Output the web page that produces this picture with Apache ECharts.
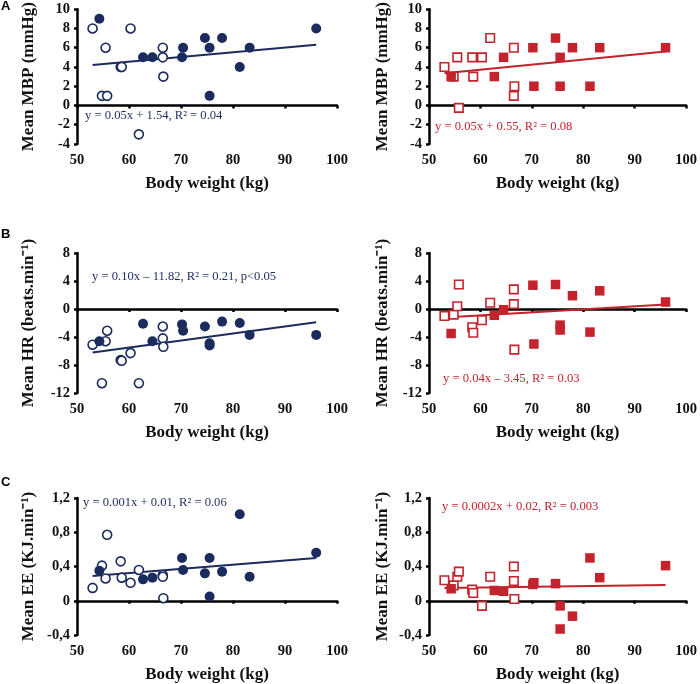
<!DOCTYPE html>
<html>
<head>
<meta charset="utf-8">
<script src="https://cdn.jsdelivr.net/npm/echarts@6/dist/echarts.min.js"></script>
<style>html,body{margin:0;padding:0;background:#fff}#c{width:700px;height:684px}</style>
</head>
<body>
<div id="c"></div>
<script>
// Body weight (kg) of subjects
var weightOpen   = [53.0, 54.8, 55.5, 55.8, 58.4, 58.6, 60.3, 61.9, 66.5, 66.5, 66.6];
var weightFilled = [54.3, 62.7, 64.5, 70.2, 70.4, 74.6, 75.5, 75.5, 77.9, 81.3, 83.2, 96.0];

// Panel A — Mean MBP (mmHg)
var mbpLeftOpen    = [8, 1, 6, 1, 4, 4, 8, -3, 6, 5, 3];
var mbpLeftFilled  = [9, 5, 5, 5, 6, 7, 6, 1, 7, 4, 6, 8];
var mbpRightOpen   = [4, 3, 5, -0.25, 5, 3, 5, 7, 6, 1, 2];
var mbpRightFilled = [3, 3, 5, 6, 2, 7, 5, 2, 6, 2, 6, 6];

// Panel B — Mean HR (beats.min-1)
var hrLeftOpen    = [-5.1, -10.6, -4.6, -3.1, -7.3, -7.4, -6.3, -10.6, -2.5, -4.2, -5.4];
var hrLeftFilled  = [-4.6, -2.1, -4.6, -2.2, -3.1, -2.5, -4.9, -5.2, -1.8, -2.0, -3.7, -3.7];
var hrRightOpen   = [-1.0, -0.8, 0.4, 3.5, -2.6, -3.4, -1.6, 0.9, 2.8, 0.7, -5.8];
var hrRightFilled = [-3.5, -0.9, -0.1, 3.4, -5.0, 3.5, -2.3, -3.0, 1.9, -3.3, 2.6, 1.0];

// Panel C — Mean EE (KJ.min-1)
var eeLeftOpen    = [0.15, 0.41, 0.26, 0.77, 0.46, 0.27, 0.21, 0.36, 0.30, 0.28, 0.03];
var eeLeftFilled  = [0.35, 0.25, 0.27, 0.50, 0.36, 0.32, 0.50, 0.05, 0.34, 1.01, 0.28, 0.56];
var eeRightOpen   = [0.24, 0.18, 0.28, 0.34, 0.13, 0.09, -0.06, 0.28, 0.40, 0.23, 0.02];
var eeRightFilled = [0.14, 0.12, 0.11, 0.19, 0.21, 0.20, -0.06, -0.33, -0.18, 0.50, 0.27, 0.41];

// Regression line endpoints (x range and fitted y at ends)
var trendX = [53, 96];
var trendMbpLeft  = [4.2, 6.3];
var trendMbpRight = [3.35, 5.6];
var trendHrLeft   = [-6.2, -1.9];
var trendHrRight  = [-1.2, 0.65];
var trendEeLeft   = [0.29, 0.50];
var trendEeRight  = [0.15, 0.185];

// Equations
var eqTexts = [
  'y = 0.05x + 1.54, R² = 0.04',
  'y = 0.05x + 0.55, R² = 0.08',
  'y = 0.10x – 11.82, R² = 0.21, p<0.05',
  'y = 0.04x – 3.45, R² = 0.03',
  'y = 0.001x + 0.01, R² = 0.06',
  'y = 0.0002x + 0.02, R² = 0.003'
];
var yTitles = ['Mean MBP (mmHg)', 'Mean HR (beats.min⁻¹)', 'Mean EE (KJ.min⁻¹)'];
var yRanges = [[-4, 10, 2], [-12, 8, 4], [-0.4, 1.2, 0.4]];
var xRange = [50, 100, 10];
var panelLetters = ['A', 'B', 'C'];

var NAVY = '#1c2b5e', RED = '#c4222c';
var SERIF = '"Liberation Serif","Times New Roman",serif';

var gridPos = [
  {left: 77, top: 5, width: 260, height: 139},
  {left: 429, top: 5, width: 259, height: 139},
  {left: 77, top: 253, width: 260, height: 140},
  {left: 429, top: 253, width: 259, height: 140},
  {left: 77, top: 498, width: 260, height: 140},
  {left: 429, top: 498, width: 259, height: 140}
];

function zip(xs, ys){ return xs.map(function(x,i){ return [x, ys[i]]; }); }

var panels = [
  [mbpLeftOpen, mbpLeftFilled, trendMbpLeft],
  [mbpRightOpen, mbpRightFilled, trendMbpRight],
  [hrLeftOpen, hrLeftFilled, trendHrLeft],
  [hrRightOpen, hrRightFilled, trendHrRight],
  [eeLeftOpen, eeLeftFilled, trendEeLeft],
  [eeRightOpen, eeRightFilled, trendEeRight]
];

var grids = [], xAxes = [], yAxes = [], series = [], graphics = [];
panels.forEach(function(p, i){
  var row = Math.floor(i/2), isLeft = (i%2===0);
  var color = isLeft ? NAVY : RED;
  var sym = isLeft ? 'circle' : 'rect';
  var yr = yRanges[row];
  grids.push(Object.assign({containLabel:false}, gridPos[i]));
  var axisLineStyle = {show:true, lineStyle:{color:'#000', width:2.5}};
  xAxes.push({
    type:'value', gridIndex:i, min:xRange[0], max:xRange[1], interval:xRange[2],
    name:'Body weight (kg)', nameLocation:'middle', nameGap:31,
    nameTextStyle:{fontFamily:SERIF, fontWeight:'bold', fontSize:17, color:'#111'},
    axisLine:axisLineStyle,
    axisTick:{show:true, length:3, lineStyle:{color:'#000', width:2.5}},
    axisLabel:{fontFamily:SERIF, fontWeight:'bold', fontSize:14.5, color:'#111', margin:9},
    splitLine:{show:false}
  });
  yAxes.push({
    type:'value', gridIndex:i, min:yr[0], max:yr[1], interval:yr[2],
    name:yTitles[row], nameLocation:'middle', nameGap:isLeft?40:38,
    nameTextStyle:{fontFamily:SERIF, fontWeight:'bold', fontSize:17, color:'#111'},
    axisLine:axisLineStyle,
    axisTick:{show:true, length:3, lineStyle:{color:'#000', width:2.5}},
    axisLabel:{fontFamily:SERIF, fontWeight:'bold', fontSize:14.5, color:'#111', margin:7,
      formatter:function(v){ var s = (Math.round(v*10)/10).toString(); return s.replace('.', ','); }},
    splitLine:{show:false}
  });
  series.push({
    type:'line', xAxisIndex:i, yAxisIndex:i, data:zip(trendX, p[2]),
    symbol:'none', lineStyle:{color:color, width:2}, z:1, silent:true
  });
  series.push({
    type:'scatter', xAxisIndex:i, yAxisIndex:i, data:zip(weightOpen, p[0]),
    symbol:sym, symbolSize:isLeft?9:8.5,
    itemStyle:{color:'#fff', borderColor:color, borderWidth:1.6, opacity:1}, z:3
  });
  series.push({
    type:'scatter', xAxisIndex:i, yAxisIndex:i, data:zip(weightFilled, p[1]),
    symbol:sym, symbolSize:isLeft?10:9.5,
    itemStyle:{color:color, borderWidth:0, opacity:1}, z:4
  });
});

var eqPos = [[85,117],[435,128],[92,278],[443,380],[83,504],[442,508]];
eqTexts.forEach(function(t, i){
  graphics.push({type:'text', left:eqPos[i][0], top:eqPos[i][1]-8, z:10,
    style:{text:t, font:'12.6px '+SERIF, fill:(i%2===0)?NAVY:RED}});
});
var letterPos = [[1,0],[1,228],[1,476]];
panelLetters.forEach(function(l, i){
  graphics.push({type:'text', left:letterPos[i][0], top:letterPos[i][1], z:10,
    style:{text:l, font:'bold 13px "Liberation Sans",Arial,sans-serif', fill:'#000'}});
});

var chart = echarts.init(document.getElementById('c'), null, {renderer:'canvas'});
chart.setOption({
  animation:false,
  backgroundColor:'#fff',
  grid:grids, xAxis:xAxes, yAxis:yAxes, series:series, graphic:graphics
});
</script>
</body>
</html>
